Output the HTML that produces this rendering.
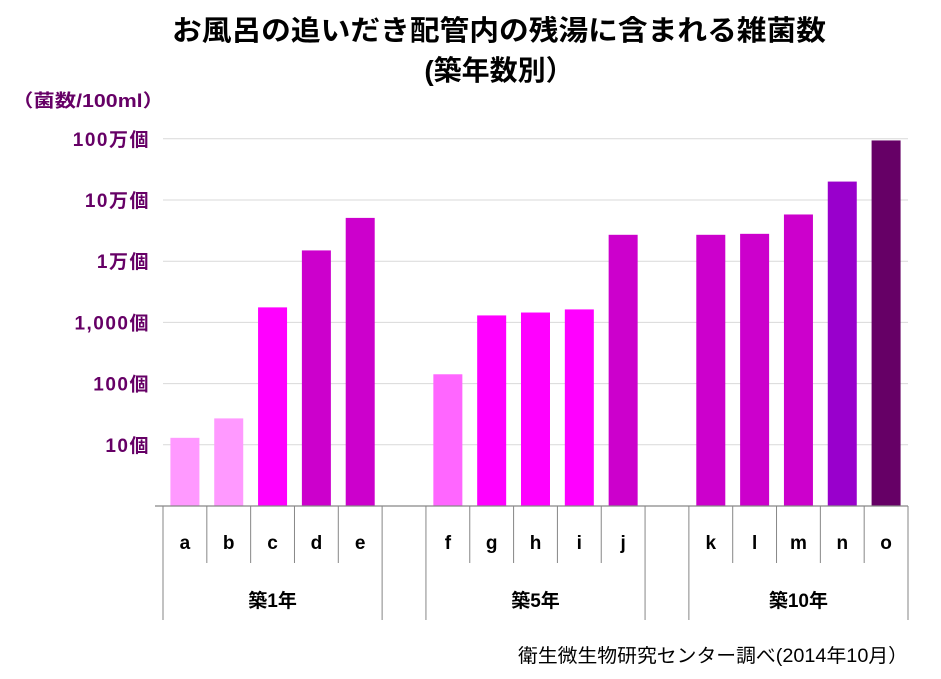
<!DOCTYPE html>
<html><head><meta charset="utf-8">
<style>
body{margin:0;background:#fff;width:941px;height:674px;overflow:hidden;font-family:"Liberation Sans","Noto Sans CJK JP",sans-serif;}
svg text{font-family:"Liberation Sans","Noto Sans CJK JP",sans-serif;}
</style></head><body>
<svg id="chart" width="941" height="674" xmlns="http://www.w3.org/2000/svg">
<text x="499" y="40" text-anchor="middle" font-size="28" font-weight="bold" fill="#000" textLength="654" lengthAdjust="spacingAndGlyphs">お風呂の追いだき配管内の残湯に含まれる雑菌数</text>
<text x="499" y="80" text-anchor="middle" font-size="28" font-weight="bold" fill="#000">(築年数別）</text>
<text x="12" y="107" font-size="18" font-weight="bold" fill="#660066" textLength="152" lengthAdjust="spacingAndGlyphs">（菌数/100ml）</text>
<text x="908" y="662" text-anchor="end" font-size="19" fill="#000" textLength="390" lengthAdjust="spacingAndGlyphs">衛生微生物研究センター調べ(2014年10月）</text>
<g id="grid"></g><g id="bars"></g><g id="xaxis"></g>
</svg>
<script>
const categories=["a","b","c","d","e","f","g","h","i","j","k","l","m","n","o"];
const values=[13,27,1760,15000,51000,142,1300,1450,1630,27000,27000,28000,58000,200000,940000];
const colors=["#ff99ff","#ff99ff","#ff00ff","#cc00cc","#cc00cc","#ff66ff","#ff00ff","#ff00ff","#ff00ff","#cc00cc","#cc00cc","#cc00cc","#cc00cc","#9900cc","#660066"];
const groups=["築1年","築5年","築10年"];
const tickLabels=["10個","100個","1,000個","1万個","10万個","100万個"];
const NS="http://www.w3.org/2000/svg";
const x0=163,x1=908,yBase=506,dec=61.2;
const slotW=(x1-x0)/17;
function y(v){return yBase-Math.log10(v)*dec;}
function slot(i){return Math.floor(i/5)*6+(i%5);}
function mk(tag,attrs,parent){const e=document.createElementNS(NS,tag);for(const k in attrs)e.setAttribute(k,attrs[k]);document.getElementById(parent).appendChild(e);return e;}
tickLabels.forEach((t,i)=>{
 const yy=y(Math.pow(10,i+1));
 const l=mk("line",{x1:x0,x2:x1,y1:yy,y2:yy,stroke:"#d9d9d9","stroke-width":1},"grid");
 
 
 const tx=mk("text",{x:150,y:yy+7,"text-anchor":"end","font-size":19,"font-weight":"bold",fill:"#660066","letter-spacing":1.5},"grid");
 tx.textContent=t;
 
 
});
values.forEach((v,i)=>{
 const cx=x0+slotW*(slot(i)+0.5);
 const r=mk("rect",{x:cx-14.5,y:y(v),width:29,height:yBase-y(v),fill:colors[i]},"bars");
 
 
 const tx=mk("text",{x:cx,y:549,"text-anchor":"middle","font-size":19,"font-weight":"bold",fill:"#000"},"xaxis");
 tx.textContent=categories[i];
 
 
});
const ax=mk("line",{x1:155,x2:x1,y1:yBase,y2:yBase,stroke:"#868686","stroke-width":1.2},"xaxis");


for(let s=0;s<=17;s++){
 const xx=x0+slotW*s;
 const full=(s%6===0)||(s%6===5);
 const l=mk("line",{x1:xx,x2:xx,y1:yBase,y2:full?620:563,stroke:"#868686","stroke-width":1},"xaxis");
 
 
}
groups.forEach((g,k)=>{
 const cx=x0+slotW*(k*6+2.5);
 const tx=mk("text",{x:cx,y:607,"text-anchor":"middle","font-size":19,"font-weight":"bold",fill:"#000"},"xaxis");
 tx.textContent=g;
 
 
});
</script>
</body></html>
